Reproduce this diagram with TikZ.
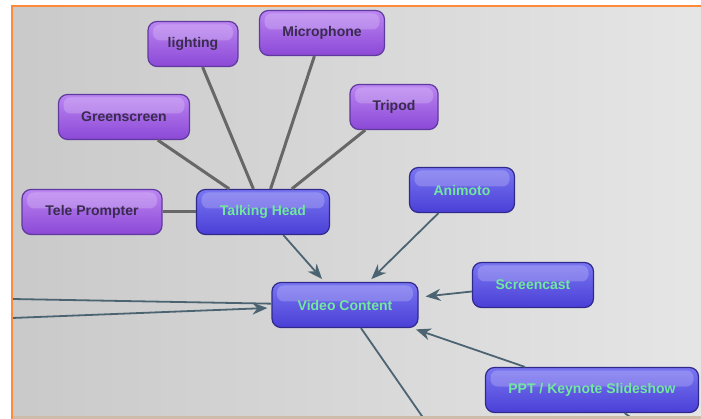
\documentclass[tikz,border=0pt]{standalone}
\usepackage{fontspec}
\setmainfont{Liberation Sans}
\usetikzlibrary{arrows.meta}

\definecolor{vcpurpletop}{HTML}{BC86F2}
\definecolor{vcpurplebot}{HTML}{8B48D6}
\definecolor{vcpurpleline}{HTML}{5F3A9E}
\definecolor{vcbluetop}{HTML}{7A76F2}
\definecolor{vcbluebot}{HTML}{4A3FD6}
\definecolor{vcblueline}{HTML}{30298C}
\definecolor{vcgreen}{HTML}{72E89E}
\definecolor{vcdark}{HTML}{3A2C4E}
\definecolor{vcslate}{HTML}{4C6472}
\definecolor{vcgrey}{HTML}{676767}
\definecolor{vcorange}{HTML}{FF8A3A}

\begin{document}
\begin{tikzpicture}[x=1pt, y=-1pt,
    vcbox/.style={rectangle, rounded corners=9pt, minimum height=45pt, line width=1.2pt,
        font=\fontsize{14}{16}\selectfont\bfseries, inner sep=3pt,
        path picture={\fill[white, opacity=0.2, rounded corners=7pt]
            ([xshift=5pt,yshift=-3pt]path picture bounding box.north west) rectangle
            ([xshift=-5pt,yshift=-19pt]path picture bounding box.north east);}},
    vcleaf/.style={vcbox, draw=vcpurpleline, top color=vcpurpletop, bottom color=vcpurplebot, text=vcdark},
    vchub/.style={vcbox, draw=vcblueline, top color=vcbluetop, bottom color=vcbluebot, text=vcgreen},
    vcspoke/.style={draw=vcgrey, line width=3pt},
    vcline/.style={draw=vcslate, line width=1.8pt},
    vcarr/.style={vcline, -{Stealth[length=15pt, width=12pt]}, shorten >=4pt}
]
\useasboundingbox (0,0) rectangle (701,419);

% background
\shade[left color=black!21, middle color=black!7, right color=black!10] (12,6) rectangle (701,417);

% nodes
\node[vcleaf, minimum width=90pt]  (lighting) at (193,44)  {lighting};
\node[vcleaf, minimum width=125pt] (mic)      at (322,33)  {Microphone};
\node[vcleaf, minimum width=131pt] (green)    at (124,117) {Greenscreen};
\node[vcleaf, minimum width=88pt]  (tripod)   at (394,107) {Tripod};
\node[vcleaf, minimum width=140pt] (tele)     at (92,212)  {Tele Prompter};

\node[vchub, minimum width=133pt] (talk)    at (263,212) {Talking Head};
\node[vchub, minimum width=105pt] (animoto) at (462,190) {Animoto};
\node[vchub, minimum width=146pt] (video)   at (345,305) {Video Content};
\node[vchub, minimum width=121pt] (screen)  at (533,285) {Screencast};
\node[vchub, minimum width=213pt] (ppt)     at (592,390) {PPT / Keynote Slideshow};

% loose ends
\coordinate (outleft) at (12,299);
\coordinate (inleft)  at (12,318);
\coordinate (outdown) at (424,419);
\coordinate (pptdown) at (633,419);

% spokes to Talking Head
\draw[vcspoke] (lighting) -- (talk);
\draw[vcspoke] (mic) -- (talk);
\draw[vcspoke] (green) -- (talk);
\draw[vcspoke] (tripod) -- (talk);
\draw[vcspoke] (tele) -- (talk);

% arrows into Video Content
\draw[vcarr] (talk) -- (video);
\draw[vcarr] (animoto) -- (video);
\draw[vcarr, shorten >=7pt] (screen) -- (video);
\draw[vcarr] (ppt) -- (video);
\draw[vcarr] (inleft) -- (video);
\draw[vcline] (video) -- (outleft);
\draw[vcline] (video) -- (outdown);
\draw[vcline] (ppt) -- (pptdown);

% frame
\draw[draw=black!30!brown!40, line width=2.5pt] (12,417.5) -- (701,417.5);
\draw[vcorange, line width=2.5pt] (701,6) -- (12,6) -- (12,419);
\end{tikzpicture}
\end{document}
